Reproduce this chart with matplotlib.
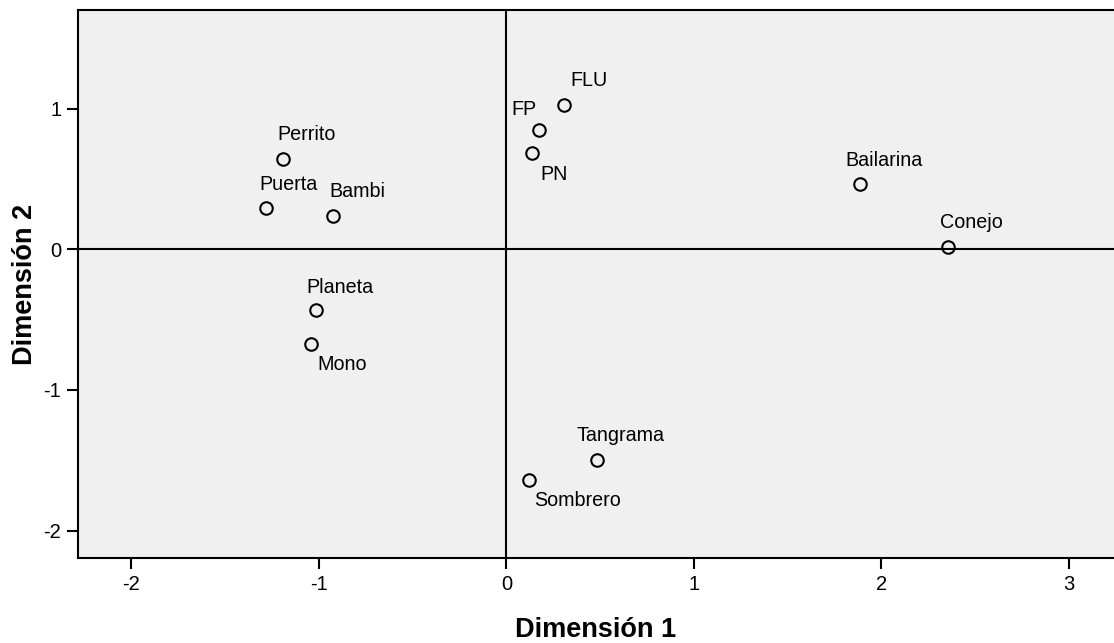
import matplotlib.pyplot as plt

plt.rcParams["font.family"] = ["Liberation Sans", "DejaVu Sans"]
plt.rcParams["axes.unicode_minus"] = False

# Object coordinates in the two-dimensional solution
names = ["Perrito", "Puerta", "Bambi", "Planeta", "Mono", "FLU", "FP", "PN",
         "Bailarina", "Conejo", "Tangrama", "Sombrero"]
dim1 = [-1.19, -1.284, -0.924, -1.016, -1.043, 0.308, 0.175, 0.136,
        1.885, 2.353, 0.484, 0.122]
dim2 = [0.645, 0.296, 0.237, -0.434, -0.675, 1.023, 0.851, 0.687,
        0.467, 0.016, -1.495, -1.637]

# label placement relative to each point (pixels, y up), and text anchor
label_offsets = {
    "Perrito": (-6, 15, "bottom"),
    "Puerta": (-6, 14, "bottom"),
    "Bambi": (-4, 15, "bottom"),
    "Planeta": (-10, 13, "bottom"),
    "Mono": (7, -11, "top"),
    "FLU": (6, 15, "bottom"),
    "FP": (-28, 11, "bottom"),
    "PN": (8, -12, "top"),
    "Bailarina": (-15, 14, "bottom"),
    "Conejo": (-8, 15, "bottom"),
    "Tangrama": (-21, 15, "bottom"),
    "Sombrero": (5, -11, "top"),
}

fig = plt.figure(figsize=(11.14, 6.43), dpi=100)
ax = fig.add_axes([0.070, 0.132, 0.930, 0.852])
ax.set_facecolor("#f0f0f0")

ax.axhline(0, color="black", lw=1.5, zorder=1)
ax.axvline(0, color="black", lw=1.5, zorder=1)

ax.plot(dim1, dim2, linestyle="none", marker="o", markersize=9,
        markerfacecolor="none", markeredgecolor="black",
        markeredgewidth=1.5, zorder=3)

for name, x, y in zip(names, dim1, dim2):
    dx, dy, va = label_offsets[name]
    ax.annotate(name, xy=(x, y), xytext=(dx, dy),
                textcoords="offset pixels", ha="left", va=va,
                fontsize=14.2, color="black")

ax.set_xlim(-2.285, 3.24)
ax.set_ylim(-2.196, 1.70)
ax.set_xticks([-2, -1, 0, 1, 2, 3])
ax.set_yticks([-2, -1, 0, 1])
ax.tick_params(direction="out", length=8, width=1.5, labelsize=14.5,
               color="black", pad=4)

for side in ["left", "bottom", "top"]:
    ax.spines[side].set_linewidth(1.5)
ax.spines["right"].set_visible(False)

ax.set_xlabel("Dimensión 1", fontsize=19.5, fontweight="bold", labelpad=17)
ax.set_ylabel("Dimensión 2", fontsize=19.5, fontweight="bold", labelpad=4)

fig.savefig("out.png", dpi=100)
